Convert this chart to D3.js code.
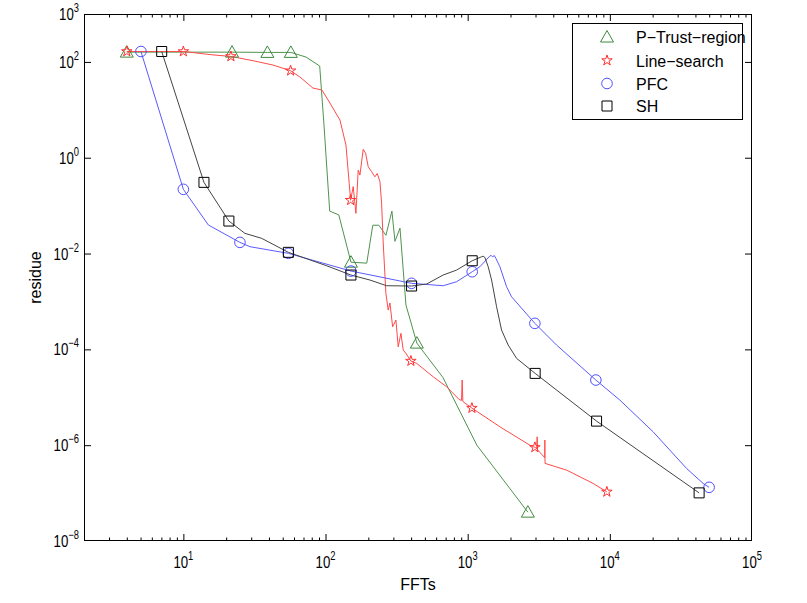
<!DOCTYPE html>
<html><head><meta charset="utf-8">
<script src="https://cdn.jsdelivr.net/npm/d3@7"></script>
<style>body{margin:0;background:#fff}svg text{font-family:"Liberation Sans",Arial,sans-serif;fill:#000}</style>
</head><body><svg id="c" width="807" height="603"></svg>
<script>
// ---- data ----
const seriesNames = ["P\u2212Trust\u2212region", "Line\u2212search", "PFC", "SH"];

const trustX = [4, 22, 39, 57, 73, 91, 97, 107, 124, 151, 195, 215, 237, 266, 293, 308, 334, 368, 439, 669, 1160, 2650];
const trustY = [160, 160, 158, 158, 126, 82, 6.1, 0.077, 0.064, 0.0066, 0.0063, 0.039, 0.039, 0.024, 0.077, 0.018, 0.034, 8.4e-4, 1.35e-4, 2.6e-5, 1.0e-6, 4.0e-8];
const trustMarks = [0, 1, 2, 3, 9, 18, 21];

const lsX = [4, 10, 16.2, 21.6, 30.9, 42.7, 56.8, 66.1, 81.5, 94.3, 102.3, 112.7, 126.3, 139.2, 146.8, 150.1, 156.6, 163.6, 169.8, 174.6, 184.1, 191.4, 199.7, 211, 222.6, 231, 241.3, 248, 254.6, 265.9, 276, 283.8, 296.5, 312.7, 324.6, 339.1, 352, 367.7, 398.6, 437.2, 572, 710.6, 870, 905, 914.7, 925, 929.8, 1071, 1685, 2737, 2969, 3060, 3082, 3100, 3480, 3491, 3500, 4962, 7630, 9528];
const lsY = [165, 165, 140, 130, 106, 86, 65.5, 48.4, 28.5, 25.9, 17.6, 10.9, 6.12, 1.84, 0.29, 0.13, 0.25, 0.069, 0.55, 0.435, 1.5, 1.24, 0.65, 0.51, 0.40, 0.47, 0.32, 0.113, 0.0166, 1.48e-3, 6.6e-4, 9.3e-4, 2.96e-4, 4.1e-4, 1.13e-4, 2.16e-4, 9.7e-5, 8.25e-5, 5.7e-5, 5.1e-5, 2.68e-5, 1.66e-5, 9.0e-6, 8.6e-6, 2.29e-5, 8.3e-6, 8.05e-6, 5.95e-6, 2.42e-6, 1.0e-6, 9.0e-7, 8.5e-7, 1.5e-6, 8.0e-7, 5.5e-7, 1.28e-6, 4.17e-7, 3.02e-7, 1.59e-7, 1.06e-7];
const lsMarks = [0, 1, 3, 6, 15, 38, 47, 50, 59];

const pfcX = [5.03, 10, 15, 25, 29.4, 54.8, 150.9, 403, 672, 836, 1076, 1218, 1416, 1460, 1497, 1540, 1579, 1685, 1878, 2036, 2969, 4220, 7975, 11760, 20160, 34620, 45310, 49930];
const pfcY = [165, 0.219, 0.0394, 0.0171, 0.0139, 0.0101, 0.00431, 0.00239, 0.00213, 0.00258, 0.00417, 0.0053, 0.00857, 0.0092, 0.0085, 0.0091, 0.00794, 0.0053, 0.00203, 0.00125, 3.49e-4, 1.23e-4, 2.29e-5, 8.74e-6, 1.9e-6, 3.28e-7, 1.59e-7, 1.32e-7];
const pfcMarks = [0, 1, 3, 5, 6, 7, 10, 20, 22, 27];

const shX = [7.04, 13.96, 20.9, 27.1, 35.5, 54.8, 101.8, 150.9, 205.3, 269, 403, 514, 672, 836, 1076, 1253, 1285, 1321, 1394, 1473, 1597, 1731, 1927, 2208, 2983, 8066, 42460];
const shY = [165, 0.306, 0.0477, 0.0264, 0.0208, 0.0106, 0.00556, 0.00356, 0.0028, 0.00213, 0.0021, 0.00231, 0.00356, 0.00452, 0.00707, 0.00857, 0.0088, 0.00833, 0.0053, 0.0028, 7.75e-4, 2.53e-4, 1.23e-4, 6.49e-5, 3.15e-5, 3.18e-6, 1.01e-7];
const shMarks = [0, 1, 2, 5, 7, 10, 14, 24, 25, 26];

const xMajorTicks = [10, 100, 1000, 10000];
const xLabelValues = [10, 100, 1000, 10000, 100000];
const xLabelExps = ["1", "2", "3", "4", "5"];
const yMajorTicks = [1e2, 1, 1e-2, 1e-4, 1e-6];
const yLabelValues = [1e3, 1e2, 1, 1e-2, 1e-4, 1e-6, 1e-8];
const yLabelExps = ["3", "2", "0", "\u22122", "\u22124", "\u22126", "\u22128"];

// ---- layout ----
const svg = d3.select("#c");
const L = 84, R = 752, T = 14, B = 541;
const x = d3.scaleLog().domain([2, 1e5]).range([L, R]);
const y = d3.scaleLog().domain([1e-8, 1e3]).range([B, T]);

const xMinor = [];
for (let k = 0; k <= 4; k++) for (let m = 2; m <= 9; m++) { const v = m * Math.pow(10, k); if (v > 2 && v < 1e5) xMinor.push(v); }

function ax(gen, tr) { return svg.append("g").attr("transform", tr).call(gen).call(g => { g.select(".domain").remove(); g.selectAll("text").remove(); g.selectAll("line").attr("stroke", "#000"); }); }
ax(d3.axisBottom(x).tickValues(xMajorTicks).tickSize(-7), `translate(0,${B})`);
ax(d3.axisBottom(x).tickValues(xMinor).tickSize(-3.5), `translate(0,${B})`);
ax(d3.axisTop(x).tickValues(xMajorTicks).tickSize(-7), `translate(0,${T})`);
ax(d3.axisTop(x).tickValues(xMinor).tickSize(-3.5), `translate(0,${T})`);
ax(d3.axisLeft(y).tickValues(yMajorTicks).tickSize(-7), `translate(${L},0)`);
ax(d3.axisRight(y).tickValues(yMajorTicks).tickSize(-7), `translate(${R},0)`);

svg.append("rect").attr("x", L + 0.5).attr("y", T + 0.5).attr("width", R - L - 1).attr("height", B - T - 1)
  .attr("fill", "none").attr("stroke", "#000").attr("stroke-width", 1);

// power labels: one text element, "10" + raised exponent, horizontally condensed
const SX = 0.78;
function powLabel(expStr, ax_, ay, align) {
  const g = svg.append("g");
  const t = g.append("text").attr("x", 0).attr("y", 0);
  t.append("tspan").attr("font-size", 17).text("10");
  t.append("tspan").attr("font-size", 12).attr("dy", -8).text(expStr);
  const w = t.node().getComputedTextLength() * SX;
  const sx = align === "center" ? ax_ - w / 2 : ax_ - w;
  g.attr("transform", `translate(${sx},${ay}) scale(${SX},1)`);
}
xLabelValues.forEach((v, i) => powLabel(xLabelExps[i], x(v), 568, "center"));
yLabelValues.forEach((v, i) => powLabel(yLabelExps[i], 79, y(v) + 6, "end"));

svg.append("text").attr("x", (L + R) / 2).attr("y", 590).attr("text-anchor", "middle").attr("font-size", 16).text("FFTs");
svg.append("text").attr("transform", `translate(41,${(T + B) / 2}) rotate(-90)`).attr("text-anchor", "middle").attr("font-size", 16).text("residue");

// marker shapes
const triPath = "M0,-6.5L6.5,5L-6.5,5Z";
const starPath = d3.symbol(d3.symbolStar, 34)();
const circPath = d3.symbol(d3.symbolCircle, Math.PI * 5.3 * 5.3)();
const sqPath = "M-5,-5H5V5H-5Z";

const series = [
  { xs: trustX, ys: trustY, marks: trustMarks, line: "#4e934e", mk: "#3f8a3f", path: triPath },
  { xs: lsX, ys: lsY, marks: lsMarks, line: "#ff4a4a", mk: "#ff3030", path: starPath },
  { xs: pfcX, ys: pfcY, marks: pfcMarks, line: "#5a5aff", mk: "#4f4fff", path: circPath },
  { xs: shX, ys: shY, marks: shMarks, line: "#444444", mk: "#000000", path: sqPath }
];

const plot = svg.append("g");
const lineGen = d3.line().x(d => x(d[0])).y(d => y(d[1]));
series.forEach(s => {
  const pts = s.xs.map((v, i) => [v, s.ys[i]]);
  plot.append("path").attr("d", lineGen(pts)).attr("fill", "none").attr("stroke", s.line).attr("stroke-width", 1);
});
series.forEach(s => {
  s.marks.forEach(i => {
    plot.append("path").attr("d", s.path).attr("transform", `translate(${x(s.xs[i])},${y(s.ys[i])})`)
      .attr("fill", "none").attr("stroke", s.mk).attr("stroke-width", 1);
  });
});

// legend
const lg = svg.append("g");
lg.append("rect").attr("x", 572.5).attr("y", 23.5).attr("width", 170).attr("height", 96).attr("fill", "#fff").attr("stroke", "#000");
const rowY = [37, 60.5, 83.5, 106];
series.forEach((s, i) => {
  lg.append("path").attr("d", s.path).attr("transform", `translate(607,${rowY[i]})`).attr("fill", "none").attr("stroke", s.mk);
  lg.append("text").attr("x", 636).attr("y", rowY[i] + 6).attr("font-size", 16).text(seriesNames[i]);
});
</script></body></html>
